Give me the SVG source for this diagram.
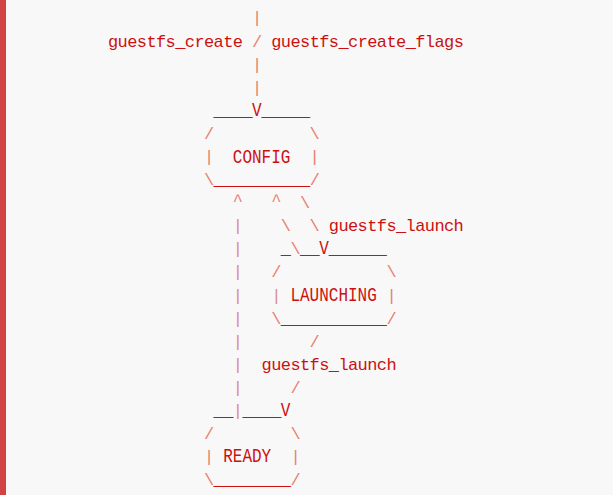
<svg xmlns="http://www.w3.org/2000/svg" width="613" height="495" viewBox="0 0 613 495">
<style>
text{font-family:"Liberation Mono","DejaVu Sans Mono",monospace;font-size:17px;letter-spacing:-0.6px;fill:#cc1010;white-space:pre}
text.cap{font-size:20px;letter-spacing:0}
.p{fill:#e8806e}
.v{fill:#d88a9a}
</style>
<rect x="0" y="0" width="613" height="495" fill="#f8f8f8"/>
<rect x="0" y="0" width="6" height="495" fill="#d24343"/>
<g id="connectors">
<text class="p" x="252" y="23.4">|</text>
<text x="108" y="46.5" xml:space="preserve">guestfs_create <tspan class="p">/</tspan> guestfs_create_flags</text>
<text class="p" x="252" y="69.6">|</text>
<text class="p" x="252" y="92.7">|</text>
<text class="p" x="232.8" y="206">^</text>
<text class="p" x="271.2" y="206">^</text>
<text class="p" x="300" y="208.1">\</text>
<text class="v" x="232.8" y="231.2">|</text>
<text class="p" x="280.8" y="231.2">\</text>
<text class="p" x="309.6" y="231.2">\</text>
<text x="328.8" y="231.2">guestfs_launch</text>
<text class="v" x="232.8" y="254.3">|</text>
<text class="p" x="290.4" y="254.3">\</text>
<text class="v" x="232.8" y="277.4">|</text>
<text class="v" x="232.8" y="300.5">|</text>
<text class="v" x="232.8" y="323.5">|</text>
<text class="v" x="232.8" y="346.6">|</text>
<text class="p" x="309.6" y="346.6">/</text>
<text class="v" x="232.8" y="369.7">|</text>
<text x="261.6" y="369.7">guestfs_launch</text>
<text class="v" x="232.8" y="392.8">|</text>
<text class="p" x="290.4" y="392.8">/</text>
<text class="v" x="232.8" y="415.9">|</text>
</g>
<g id="node-config">
<text x="213.6" y="115.7">____</text>
<text class="cap" transform="translate(252,115.7) scale(0.8,1)">V</text>
<text x="261.6" y="115.7">_____</text>
<text class="p" x="204" y="138.8">/</text>
<text class="p" x="309.6" y="138.8">\</text>
<text class="p" x="204" y="161.9">|</text>
<text class="cap" transform="translate(232.8,162.5) scale(0.8,1)">CONFIG</text>
<text class="p" x="309.6" y="161.9">|</text>
<text x="204" y="185"><tspan class="p">\</tspan>__________<tspan class="p">/</tspan></text>
</g>
<g id="node-launching">
<text x="280.8" y="254.3">_</text>
<text x="300" y="254.3">__</text>
<text class="cap" transform="translate(319.2,254.3) scale(0.8,1)">V</text>
<text x="328.8" y="254.3">______</text>
<text class="p" x="271.2" y="277.4">/</text>
<text class="p" x="386.4" y="277.4">\</text>
<text class="v" x="271.2" y="300.5">|</text>
<text class="cap" transform="translate(290.4,301.1) scale(0.8,1)">LAUNCHING</text>
<text class="p" x="386.4" y="300.5">|</text>
<text x="271.2" y="323.5"><tspan class="p">\</tspan>___________<tspan class="p">/</tspan></text>
</g>
<g id="node-ready">
<text x="213.6" y="415.9">__</text>
<text x="242.4" y="415.9">____</text>
<text class="cap" transform="translate(280.8,415.9) scale(0.8,1)">V</text>
<text class="p" x="204" y="439">/</text>
<text class="p" x="290.4" y="439">\</text>
<text class="p" x="204" y="462.1">|</text>
<text class="cap" transform="translate(223.2,462.1) scale(0.8,1)">READY</text>
<text class="p" x="290.4" y="462.1">|</text>
<text x="204" y="485.1"><tspan class="p">\</tspan>________<tspan class="p">/</tspan></text>
</g>
</svg>
